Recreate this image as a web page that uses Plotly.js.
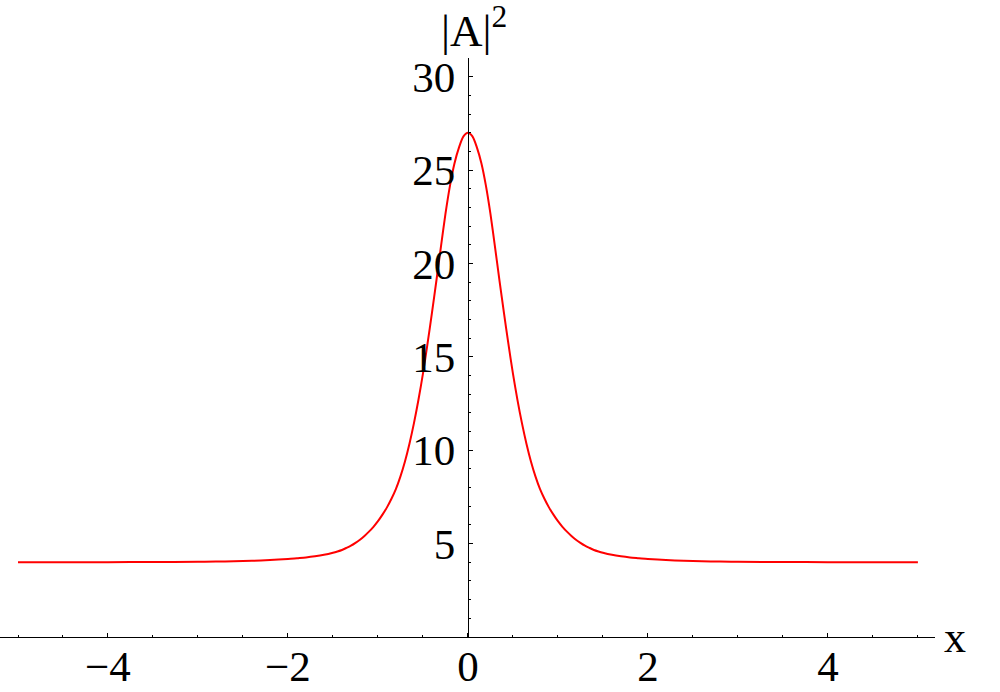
<!DOCTYPE html>
<html>
<head>
<meta charset="utf-8">
<script src="https://cdn.plot.ly/plotly-3.0.1.min.js"></script>
<style>html,body{margin:0;padding:0;background:#fff;}#chart{width:1000px;height:692px;}</style>
</head>
<body>
<div id="chart"></div>
<script>
// Curve samples (x and |A|^2)
const xValues = [-5.0,-4.5,-4.0,-3.5,-3.0,-2.8,-2.6,-2.4,-2.2,-2.0,-1.9,-1.8,-1.7,-1.6,
  -1.5,-1.45,-1.4,-1.35,-1.3,-1.25,-1.2,-1.15,-1.1,-1.05,-1.0,-0.95,-0.9,-0.85,-0.8,-0.75,-0.7,-0.65,-0.6,-0.55,-0.5,-0.45,-0.4,-0.35,-0.3,-0.25,-0.2,-0.15,-0.1,-0.05,
  0,
  0.05,0.1,0.15,0.2,0.25,0.3,0.35,0.4,0.45,0.5,0.55,0.6,0.65,0.7,0.75,0.8,0.85,0.9,0.95,1.0,1.05,1.1,1.15,1.2,1.25,1.3,1.35,1.4,1.45,1.5,
  1.6,1.7,1.8,1.9,2.0,2.2,2.4,2.6,2.8,3.0,3.5,4.0,4.5,5.0];
const intensity = [4.0,4.0,4.005,4.015,4.03,4.04,4.055,4.08,4.12,4.18,4.22,4.26,4.32,4.4,
  4.51,4.58,4.66,4.77,4.89,5.04,5.21,5.41,5.64,5.9,6.2,6.55,6.94,7.4,7.93,8.6,9.4,10.35,11.45,12.7,14.1,15.68,17.35,19.1,20.9,22.65,24.15,25.35,26.2,26.8,
  27.0,
  26.8,26.2,25.35,24.15,22.65,20.9,19.1,17.35,15.68,14.1,12.7,11.45,10.35,9.4,8.6,7.93,7.4,6.94,6.55,6.2,5.9,5.64,5.41,5.21,5.04,4.89,4.77,4.66,4.58,4.51,
  4.4,4.32,4.26,4.22,4.18,4.12,4.08,4.055,4.04,4.03,4.015,4.005,4.0,4.0];

const xMajorTicks = [-4,-2,0,2,4];
const xTickLabels = ['\u22124','\u22122','0','2','4'];
const yMajorTicks = [5,10,15,20,25,30];
const yTickLabels = ['5','10','15','20','25','30'];
const xRange = [-5.2, 5.19];
const yRange = [0, 31];

const serif = 'Liberation Serif, Times New Roman, serif';

const trace = {
  x: xValues, y: intensity, type: 'scatter', mode: 'lines',
  line: {color: '#ff0000', width: 2, shape: 'spline', smoothing: 0.8},
  hoverinfo: 'skip', showlegend: false
};

const layout = {
  width: 1000, height: 692,
  margin: {l: 0, r: 65, t: 58, b: 55, pad: 0},
  paper_bgcolor: '#ffffff', plot_bgcolor: '#ffffff',
  showlegend: false,
  font: {family: serif, color: '#000000'},
  title: {
    text: '|A|<sup>2</sup>',
    font: {family: serif, size: 45, color: '#000000'},
    xref: 'container', yref: 'container',
    x: 0.441, xanchor: 'left', y: 0.957, yanchor: 'middle'
  },
  xaxis: {
    range: xRange, showgrid: false, zeroline: false,
    showline: true, linecolor: '#000000', linewidth: 1,
    tickmode: 'array', tickvals: xMajorTicks, ticktext: xTickLabels,
    ticks: 'inside', ticklen: 4, tickwidth: 1, tickcolor: '#000000',
    tickfont: {family: serif, size: 43, color: '#000000'},
    ticklabelstandoff: -9,
    minor: {tickmode: 'linear', tick0: 0, dtick: 0.5, ticks: 'inside', ticklen: 2, tickwidth: 1, tickcolor: '#000000', showgrid: false},
    fixedrange: true
  },
  yaxis: {
    range: yRange, showgrid: false, zeroline: false,
    anchor: 'free', position: 5.2 / 10.39,
    showline: true, linecolor: '#000000', linewidth: 1,
    tickmode: 'array', tickvals: yMajorTicks, ticktext: yTickLabels,
    ticks: 'inside', ticklen: 4, tickwidth: 1, tickcolor: '#000000',
    tickfont: {family: serif, size: 43, color: '#000000'},
    ticklabelstandoff: 4,
    minor: {tickmode: 'linear', tick0: 0, dtick: 1, ticks: 'inside', ticklen: 2.5, tickwidth: 1, tickcolor: '#000000', showgrid: false},
    fixedrange: true
  },
  annotations: [{
    text: 'x', xref: 'paper', yref: 'paper', x: 1.0, y: 0,
    xanchor: 'left', yanchor: 'middle', xshift: 7, yshift: 0, showarrow: false,
    font: {family: serif, size: 44, color: '#000000'}
  }]
};

Plotly.newPlot('chart', [trace], layout, {displayModeBar: false, staticPlot: true});
</script>
</body>
</html>
